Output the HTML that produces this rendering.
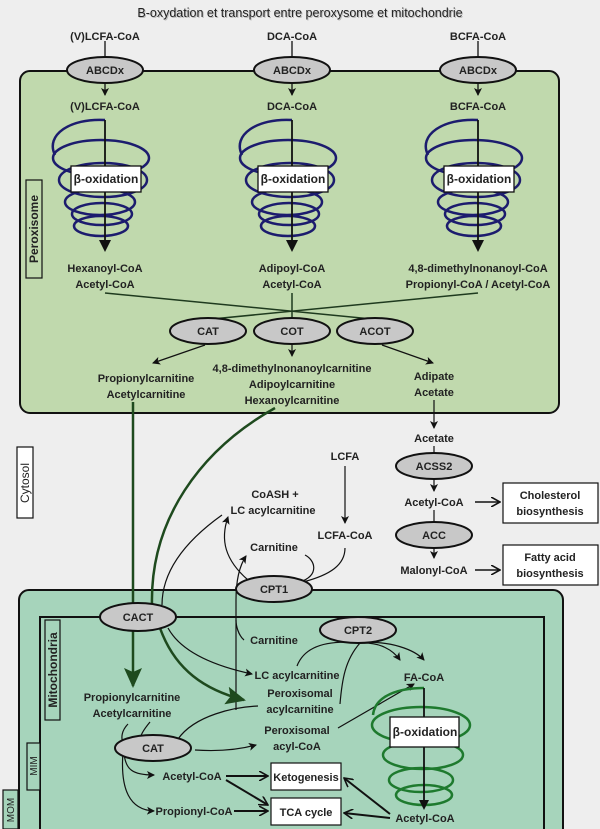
<!DOCTYPE html>
<html><head><meta charset="utf-8"><style>
html,body{margin:0;padding:0;background:#eeeeee;}
svg{display:block;}
text{font-family:"Liberation Sans",sans-serif;font-weight:bold;font-size:11px;fill:#222;text-anchor:middle;}
.t{font-weight:normal;font-size:12.5px;fill:#222;}
</style></head><body>
<svg width="600" height="829" viewBox="0 0 600 829" xmlns="http://www.w3.org/2000/svg">
<defs>
<marker id="a" markerWidth="8" markerHeight="8" refX="7" refY="4" orient="auto" markerUnits="userSpaceOnUse"><path d="M0,0 L8,4 L0,8 L2,4 z" fill="#111"/></marker>
<marker id="ao" markerWidth="10" markerHeight="10" refX="9" refY="5" orient="auto" markerUnits="userSpaceOnUse"><path d="M0,0 L9,5 L0,10" fill="none" stroke="#111" stroke-width="1.6"/></marker>
<marker id="g" markerWidth="20" markerHeight="18" refX="18" refY="9" orient="auto" markerUnits="userSpaceOnUse"><path d="M0,0 L20,9 L0,18 L4,9 z" fill="#1e4a1e"/></marker>
</defs>
<rect width="600" height="829" fill="#eeeeee"/>
<text x="300" y="17" class="t" fill="#777" style="fill:#bbb" dx="1" dy="1">B-oxydation et transport entre peroxysome et mitochondrie</text>
<text x="300" y="17" class="t">B-oxydation et transport entre peroxysome et mitochondrie</text>

<!-- peroxisome -->
<rect x="20" y="71" width="539" height="342" rx="10" fill="#c0d9ad" stroke="#111" stroke-width="2"/>
<rect x="26" y="180" width="16" height="98" fill="#c0d9ad" stroke="#111" stroke-width="1.2"/>
<text transform="translate(38,229) rotate(-90)" style="font-size:12px">Peroxisome</text>

<g id="col">
</g>
<!-- columns -->
<g stroke="#111" stroke-width="1.3" fill="none">
<line x1="105" y1="41" x2="105" y2="58"/><line x1="292" y1="41" x2="292" y2="58"/><line x1="478" y1="41" x2="478" y2="58"/>
<line x1="105" y1="83" x2="105" y2="95" marker-end="url(#a)"/><line x1="292" y1="83" x2="292" y2="95" marker-end="url(#a)"/><line x1="478" y1="83" x2="478" y2="95" marker-end="url(#a)"/>
</g>
<g fill="#c8c8c8" stroke="#111" stroke-width="2">
<ellipse cx="105" cy="70" rx="38" ry="13"/><ellipse cx="292" cy="70" rx="38" ry="13"/><ellipse cx="478" cy="70" rx="38" ry="13"/>
</g>
<text x="105" y="40">(V)LCFA-CoA</text><text x="292" y="40">DCA-CoA</text><text x="478" y="40">BCFA-CoA</text>
<text x="105" y="74">ABCDx</text><text x="292" y="74">ABCDx</text><text x="478" y="74">ABCDx</text>
<text x="105" y="110">(V)LCFA-CoA</text><text x="292" y="110">DCA-CoA</text><text x="478" y="110">BCFA-CoA</text>

<g id="hx">
<g fill="none" stroke="#1c1c6e" stroke-width="2.5">
<path d="M105,120 C70,118 45,135 55,155"/>
<ellipse cx="101" cy="158" rx="48" ry="18"/>
<ellipse cx="103" cy="180" rx="44" ry="17"/>
<ellipse cx="100" cy="202" rx="35" ry="13"/>
<ellipse cx="102" cy="214" rx="30" ry="11"/>
<ellipse cx="101" cy="226" rx="27" ry="10"/>
</g>
<line x1="105" y1="120" x2="105" y2="248" stroke="#111" stroke-width="1.8"/>
<path d="M99,240 L105,252 L111,240 z" fill="#111"/>
<rect x="71" y="166" width="70" height="26" fill="#fff" stroke="#111" stroke-width="1.3"/>
<text x="106" y="183" style="font-size:12px">β-oxidation</text>
</g>
<use href="#hx" x="187"/>
<use href="#hx" x="373"/>

<text x="105" y="272">Hexanoyl-CoA</text><text x="105" y="288">Acetyl-CoA</text>
<text x="292" y="272">Adipoyl-CoA</text><text x="292" y="288">Acetyl-CoA</text>
<text x="478" y="272">4,8-dimethylnonanoyl-CoA</text><text x="478" y="288">Propionyl-CoA / Acetyl-CoA</text>

<g stroke="#1e3a1e" stroke-width="1.5" fill="none">
<line x1="105" y1="293" x2="382" y2="320"/>
<line x1="478" y1="293" x2="202" y2="320"/>
<line x1="292" y1="293" x2="292" y2="320"/>
</g>
<g fill="#c8c8c8" stroke="#111" stroke-width="2">
<ellipse cx="208" cy="331" rx="38" ry="13"/><ellipse cx="292" cy="331" rx="38" ry="13"/><ellipse cx="375" cy="331" rx="38" ry="13"/>
</g>
<text x="208" y="335">CAT</text><text x="292" y="335">COT</text><text x="375" y="335">ACOT</text>
<g stroke="#111" stroke-width="1.2" fill="none">
<line x1="205" y1="345" x2="153" y2="363" marker-end="url(#a)"/>
<line x1="292" y1="344" x2="292" y2="356" marker-end="url(#a)"/>
<line x1="382" y1="345" x2="433" y2="363" marker-end="url(#a)"/>
</g>
<text x="146" y="382">Propionylcarnitine</text><text x="146" y="398">Acetylcarnitine</text>
<text x="292" y="372">4,8-dimethylnonanoylcarnitine</text><text x="292" y="388">Adipoylcarnitine</text><text x="292" y="404">Hexanoylcarnitine</text>
<text x="434" y="380">Adipate</text><text x="434" y="396">Acetate</text>

<!-- cytosol -->
<rect x="17" y="447" width="16" height="71" fill="#fff" stroke="#111" stroke-width="1.2"/>
<text transform="translate(29,483) rotate(-90)" style="font-weight:normal;font-size:12px">Cytosol</text>
<line x1="434" y1="400" x2="434" y2="428" stroke="#111" stroke-width="1.2" marker-end="url(#a)"/>
<text x="434" y="442">Acetate</text>
<line x1="434" y1="446" x2="434" y2="454" stroke="#111" stroke-width="1.2"/>
<ellipse cx="434" cy="466" rx="38" ry="13" fill="#c8c8c8" stroke="#111" stroke-width="2"/>
<text x="434" y="470">ACSS2</text>
<line x1="434" y1="479" x2="434" y2="491" stroke="#111" stroke-width="1.2" marker-end="url(#a)"/>
<text x="434" y="506">Acetyl-CoA</text>
<line x1="434" y1="510" x2="434" y2="522" stroke="#111" stroke-width="1.2"/>
<ellipse cx="434" cy="535" rx="38" ry="13" fill="#c8c8c8" stroke="#111" stroke-width="2"/>
<text x="434" y="539">ACC</text>
<line x1="434" y1="548" x2="434" y2="558" stroke="#111" stroke-width="1.2" marker-end="url(#a)"/>
<text x="434" y="574">Malonyl-CoA</text>
<line x1="475" y1="502" x2="500" y2="502" stroke="#111" stroke-width="1.6" marker-end="url(#ao)"/>
<line x1="475" y1="570" x2="500" y2="570" stroke="#111" stroke-width="1.6" marker-end="url(#ao)"/>
<rect x="503" y="483" width="95" height="40" fill="#fff" stroke="#111" stroke-width="1.2"/>
<text x="550" y="499">Cholesterol</text><text x="550" y="515">biosynthesis</text>
<rect x="503" y="545" width="95" height="40" fill="#fff" stroke="#111" stroke-width="1.2"/>
<text x="550" y="561">Fatty acid</text><text x="550" y="577">biosynthesis</text>

<text x="345" y="460">LCFA</text>
<line x1="345" y1="466" x2="345" y2="523" stroke="#111" stroke-width="1.2" marker-end="url(#a)"/>
<text x="345" y="539">LCFA-CoA</text>
<text x="275" y="498">CoASH +</text><text x="273" y="514">LC acylcarnitine</text>
<text x="274" y="551">Carnitine</text>

<!-- mitochondria -->
<rect x="19" y="590" width="544" height="250" rx="10" fill="#a6d4bb" stroke="#111" stroke-width="2"/>
<path d="M40,840 L40,617 L544,617 L544,840" fill="#a6d4bb" stroke="#111" stroke-width="2"/>
<rect x="45" y="620" width="15" height="100" fill="#a6d4bb" stroke="#111" stroke-width="1.2"/>
<text transform="translate(57,670) rotate(-90)" style="font-size:12px">Mitochondria</text>
<rect x="27" y="743" width="13" height="47" fill="#a6d4bb" stroke="#111" stroke-width="1.2"/>
<text transform="translate(37,766) rotate(-90)" style="font-weight:normal;font-size:10px">MIM</text>
<rect x="3" y="790" width="15" height="39" fill="#a6d4bb" stroke="#111" stroke-width="1.2"/>
<text transform="translate(14,810) rotate(-90)" style="font-weight:normal;font-size:10px">MOM</text>

<!-- cytosol connectors -->
<line x1="133" y1="402" x2="133" y2="605" stroke="#1e4a1e" stroke-width="2.5"/>
<path d="M275,408 C200,450 150,520 152,605" fill="none" stroke="#1e4a1e" stroke-width="2.5"/>
<path d="M222,515 C180,545 162,575 162,605" fill="none" stroke="#111" stroke-width="1.2"/>
<g fill="none" stroke="#111" stroke-width="1.2">
<path d="M248,580 C225,560 220,540 228,517" marker-end="url(#a)"/>
<path d="M236,710 L236,600 C236,580 240,565 246,556" marker-end="url(#a)"/>
<path d="M300,582 C320,575 315,560 305,555"/>
<path d="M303,582 C330,575 345,565 345,548"/>
<path d="M236,620 C236,625 238,635 244,640"/>
</g>
<ellipse cx="274" cy="589" rx="38" ry="13" fill="#c8c8c8" stroke="#111" stroke-width="2"/>
<text x="274" y="593">CPT1</text>

<!-- mito content -->
<g fill="none">
<line x1="133" y1="630" x2="133" y2="686" stroke="#1e4a1e" stroke-width="2.5" marker-end="url(#g)"/>
<path d="M160,628 C175,670 205,690 244,700" stroke="#1e4a1e" stroke-width="2.5" marker-end="url(#g)"/>
<path d="M168,628 C180,650 210,665 252,674" stroke="#111" stroke-width="1.2" marker-end="url(#a)"/>
<path d="M297,666 C305,645 330,640 360,643" stroke="#111" stroke-width="1.2"/>
<path d="M340,704 C342,680 345,660 360,643" stroke="#111" stroke-width="1.2"/>
<path d="M360,643 C380,642 393,650 400,660" stroke="#111" stroke-width="1.2" marker-end="url(#a)"/>
<path d="M360,643 C390,640 415,650 424,660" stroke="#111" stroke-width="1.2" marker-end="url(#a)"/>
<path d="M338,728 L414,684" stroke="#111" stroke-width="1.2" marker-end="url(#a)"/>
<path d="M178,739 C195,715 235,707 258,706" stroke="#111" stroke-width="1.2"/>
<path d="M195,750 C225,752 245,748 256,745" stroke="#111" stroke-width="1.2" marker-end="url(#a)"/>
<path d="M128,724 C122,730 120,738 124,745" stroke="#111" stroke-width="1.2"/>
<path d="M150,722 C145,728 140,735 140,740" stroke="#111" stroke-width="1.2"/>
<path d="M124,752 C125,770 133,775 154,775" stroke="#111" stroke-width="1.2" marker-end="url(#a)"/>
<path d="M123,752 C120,790 130,810 154,811" stroke="#111" stroke-width="1.2" marker-end="url(#a)"/>
<line x1="226" y1="776" x2="268" y2="776" stroke="#111" stroke-width="2" marker-end="url(#ao)"/>
<line x1="226" y1="780" x2="268" y2="805" stroke="#111" stroke-width="2" marker-end="url(#ao)"/>
<line x1="234" y1="811" x2="268" y2="811" stroke="#111" stroke-width="2" marker-end="url(#ao)"/>
<line x1="390" y1="814" x2="344" y2="778" stroke="#111" stroke-width="2" marker-end="url(#ao)"/>
<line x1="390" y1="818" x2="344" y2="813" stroke="#111" stroke-width="2" marker-end="url(#ao)"/>
</g>
<ellipse cx="138" cy="617" rx="38" ry="14" fill="#c8c8c8" stroke="#111" stroke-width="2"/>
<text x="138" y="621">CACT</text>
<ellipse cx="358" cy="630" rx="38" ry="13" fill="#c8c8c8" stroke="#111" stroke-width="2"/>
<text x="358" y="634">CPT2</text>
<ellipse cx="153" cy="748" rx="38" ry="13" fill="#c8c8c8" stroke="#111" stroke-width="2"/>
<text x="153" y="752">CAT</text>

<text x="274" y="644">Carnitine</text>
<text x="297" y="679">LC acylcarnitine</text>
<text x="424" y="681">FA-CoA</text>
<text x="300" y="697">Peroxisomal</text><text x="300" y="713">acylcarnitine</text>
<text x="297" y="734">Peroxisomal</text><text x="297" y="750">acyl-CoA</text>
<text x="132" y="701">Propionylcarnitine</text><text x="132" y="717">Acetylcarnitine</text>
<text x="192" y="780">Acetyl-CoA</text>
<text x="194" y="815">Propionyl-CoA</text>
<text x="425" y="822">Acetyl-CoA</text>
<rect x="271" y="763" width="70" height="27" fill="#fff" stroke="#111" stroke-width="1.2"/>
<text x="306" y="781">Ketogenesis</text>
<rect x="271" y="798" width="70" height="27" fill="#fff" stroke="#111" stroke-width="1.2"/>
<text x="306" y="816">TCA cycle</text>

<g fill="none" stroke="#1e7a2e" stroke-width="2.5">
<path d="M424,688 C400,688 375,695 373,715"/>
<ellipse cx="421" cy="725" rx="49" ry="18"/>
<ellipse cx="423" cy="755" rx="40" ry="14"/>
<ellipse cx="421" cy="780" rx="32" ry="12"/>
<ellipse cx="424" cy="795" rx="28" ry="10"/>
</g>
<line x1="424" y1="688" x2="424" y2="806" stroke="#111" stroke-width="1.8"/>
<path d="M419,800 L424,810 L429,800 z" fill="#111"/>
<rect x="390" y="717" width="69" height="30" fill="#fff" stroke="#111" stroke-width="1.3"/>
<text x="425" y="736" style="font-size:12px">β-oxidation</text>
</svg>
</body></html>
